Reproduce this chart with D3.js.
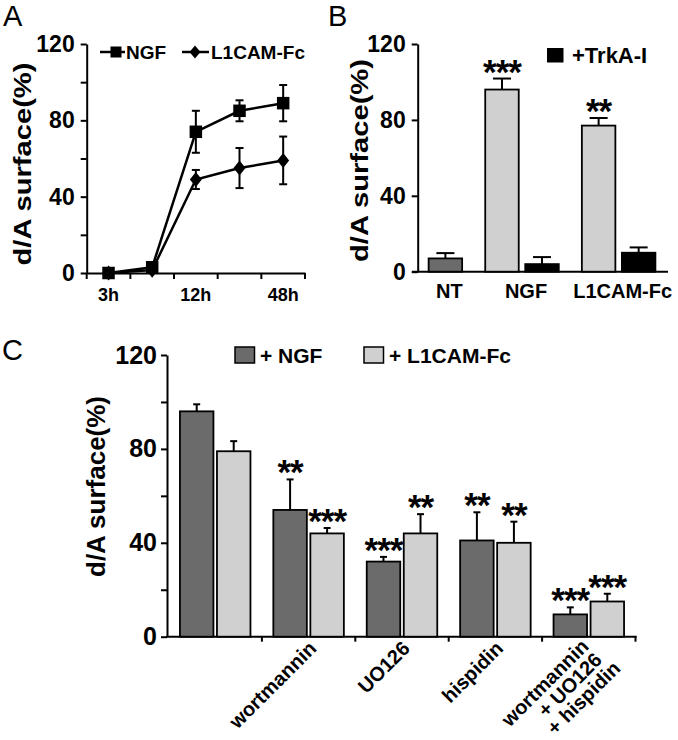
<!DOCTYPE html>
<html><head><meta charset="utf-8">
<script src="https://cdn.jsdelivr.net/npm/d3@7"></script>
<style>
body{margin:0;background:#fff}
svg{display:block}
text{font-family:"Liberation Sans",Arial,sans-serif}
</style>
</head><body>
<svg id="chart" width="678" height="740"></svg>
<script>
// ---------- Panel A data ----------
const timesA = ["3h", "6h", "12h", "24h", "48h"];
const timeLabelsA = ["3h", "12h", "48h"];
const ngfA = [0, 3, 74, 85, 89];
const ngfErrA = [0, 0, 11, 5.5, 9.5];
const l1camA = [0, 1.5, 49, 55, 59];
const l1camErrA = [0, 0, 5, 10.5, 12.5];
const seriesNamesA = ["NGF", "L1CAM-Fc"];

// ---------- Panel B data ----------
const groupsB = ["NT", "NGF", "L1CAM-Fc"];
const controlB = [7, null, null];
const controlErrB = [2.8, null, null];
const ligandB = [null, 96, 77];
const ligandErrB = [null, 5.8, 4];
const trkaB = [null, 4, 10];
const trkaErrB = [null, 3.7, 2.8];
const ligandStarsB = ["", "***", "**"];
const legendB = ["+TrkA-I"];

// ---------- Panel C data ----------
const groupsC = ["", "wortmannin", "UO126", "hispidin", "wortmannin\n+ UO126\n+ hispidin"];
const ngfC = [96, 54, 32, 41, 9.5];
const ngfErrC = [3, 13, 2, 12, 3];
const l1camC = [79, 44, 44, 40, 15];
const l1camErrC = [4.3, 2.3, 8.2, 9, 3.3];
const ngfStarsC = ["", "**", "***", "**", "***"];
const l1camStarsC = ["", "***", "**", "**", "***"];
const legendC = ["+ NGF", "+ L1CAM-Fc"];

const yTicksMajor = [0, 40, 80, 120];
const yTicksAll = [0, 20, 40, 60, 80, 100, 120];
const yLabel = "d/A surface(%)";

// ---------- styles ----------
const DARK = "#6b6b6b", LIGHT = "#d0d0d0", BLACK = "#000";
const svg = d3.select("#chart");

function panelLetter(x, y, t) {
  svg.append("text").attr("x", x).attr("y", y).attr("font-size", 29).text(t);
}
function yAxisLabel(x, cy, size, len) {
  svg.append("text")
    .attr("transform", `translate(${x},${cy}) rotate(-90)`)
    .attr("text-anchor", "middle").attr("font-weight", "bold")
    .attr("font-size", size)
    .attr("textLength", len).attr("lengthAdjust", "spacingAndGlyphs")
    .text(yLabel);
}
function yAxis(scale, x, ticks, size, pad) {
  const g = svg.append("g").attr("transform", `translate(${x},0)`)
    .call(d3.axisLeft(scale).tickValues(ticks).tickSize(6).tickSizeOuter(0)
      .tickPadding(pad).tickFormat(d => yTicksMajor.includes(d) ? d : ""));
  g.select(".domain").attr("stroke-width", 2);
  g.selectAll(".tick line").attr("stroke-width", 2);
  g.selectAll(".tick text").attr("font-size", size).attr("font-weight", "bold")
    .attr("fill", "#000");
  g.attr("font-family", null);
  return g;
}
function stars(x, yTop, s) {
  if (!s) return;
  svg.append("text").attr("x", x).attr("y", yTop + 5)
    .attr("text-anchor", "middle").attr("font-weight", "bold")
    .attr("font-size", 35).attr("letter-spacing", -1).text(s);
}
function errUp(x, y0, y1, cap) {
  svg.append("line").attr("x1", x).attr("x2", x).attr("y1", y0).attr("y2", y1)
    .attr("stroke", "#000").attr("stroke-width", 2);
  svg.append("line").attr("x1", x - cap / 2).attr("x2", x + cap / 2).attr("y1", y1).attr("y2", y1)
    .attr("stroke", "#000").attr("stroke-width", 2);
}

// =============== PANEL A ===============
const yA = d3.scaleLinear().domain([0, 120]).range([273, 44]);
const xA = d3.scaleBand().domain(timesA).range([86.7, 305]);
panelLetter(3, 26, "A");
yAxisLabel(31, 164, 24, 203);
yAxis(yA, 86.7, yTicksAll, 23, 6);
{
  const g = svg.append("g").attr("transform", `translate(0,${yA(0)})`)
    .call(d3.axisBottom(xA).tickSize(0).tickPadding(15).tickSizeOuter(0)
      .tickFormat(d => timeLabelsA.includes(d) ? d : ""));
  g.attr("font-family", null);
  g.select(".domain").attr("stroke-width", 2);
  g.selectAll(".tick text").attr("font-size", 18).attr("font-weight", "bold").attr("fill", "#000");
  const bounds = timesA.map(t => xA(t)).concat([xA.range()[1]]);
  g.selectAll(".bnd").data(bounds).enter().append("line")
    .attr("x1", d => d).attr("x2", d => d).attr("y1", 0).attr("y2", 6)
    .attr("stroke", "#000").attr("stroke-width", 2);
}
const cxA = t => xA(t) + xA.bandwidth() / 2;
const lineA = d3.line().x((d, i) => cxA(timesA[i])).y(d => yA(d));
[[ngfA, ngfErrA], [l1camA, l1camErrA]].forEach(([vals, errs]) => {
  vals.forEach((v, i) => {
    if (errs[i] > 0) {
      const x = cxA(timesA[i]);
      svg.append("line").attr("x1", x).attr("x2", x).attr("y1", yA(v + errs[i])).attr("y2", yA(v - errs[i]))
        .attr("stroke", "#000").attr("stroke-width", 2);
      [v + errs[i], v - errs[i]].forEach(e => svg.append("line")
        .attr("x1", x - 4).attr("x2", x + 4).attr("y1", yA(e)).attr("y2", yA(e))
        .attr("stroke", "#000").attr("stroke-width", 2));
    }
  });
  svg.append("path").datum(vals).attr("d", lineA).attr("fill", "none")
    .attr("stroke", "#000").attr("stroke-width", 2.5);
});
const sqPath = s => `M${-s/2},${-s/2}h${s}v${s}h${-s}Z`;
const diPath = (w, h) => `M0,${-h/2}L${w/2},0L0,${h/2}L${-w/2},0Z`;
ngfA.forEach((v, i) => svg.append("path").attr("d", sqPath(12.5))
  .attr("transform", `translate(${cxA(timesA[i])},${yA(v)})`).attr("fill", "#000"));
l1camA.forEach((v, i) => svg.append("path").attr("d", diPath(12, 15))
  .attr("transform", `translate(${cxA(timesA[i])},${yA(v)})`).attr("fill", "#000"));
// legend A
{
  const ly = 52;
  svg.append("line").attr("x1", 100).attr("x2", 125).attr("y1", ly).attr("y2", ly).attr("stroke", "#000").attr("stroke-width", 2.5);
  svg.append("path").attr("d", sqPath(11)).attr("transform", `translate(116,${ly})`);
  svg.append("text").attr("x", 126).attr("y", ly + 7).attr("font-size", 19).attr("font-weight", "bold").text(seriesNamesA[0]);
  svg.append("line").attr("x1", 182).attr("x2", 209).attr("y1", ly).attr("y2", ly).attr("stroke", "#000").attr("stroke-width", 2.5);
  svg.append("path").attr("d", diPath(11, 13)).attr("transform", `translate(195,${ly})`);
  svg.append("text").attr("x", 211).attr("y", ly + 7).attr("font-size", 19).attr("font-weight", "bold").text(seriesNamesA[1]);
}

// =============== PANEL B ===============
const yB = d3.scaleLinear().domain([0, 120]).range([271.7, 44]);
const x0B = d3.scaleBand().domain(groupsB).range([377, 667]).paddingInner(0.239).paddingOuter(0.12);
const x1B = d3.scaleBand().domain(["first", "second"]).range([0, x0B.bandwidth()]).paddingInner(0.163);
panelLetter(328, 26, "B");
yAxisLabel(367.5, 160.5, 24, 203);
yAxis(yB, 417.7, yTicksMajor, 23, 6);
svg.append("line").attr("x1", 412).attr("x2", 668).attr("y1", yB(0)).attr("y2", yB(0))
  .attr("stroke", "#000").attr("stroke-width", 2);
function barsB(vals, errs, slot, color, starsArr) {
  groupsB.forEach((g, i) => {
    const v = vals[i];
    if (v == null) return;
    const x = x0B(g) + x1B(slot), w = x1B.bandwidth();
    const xc = x + w / 2;
    errUp(xc, yB(v), yB(v + errs[i]), 18);
    svg.append("rect").attr("x", x).attr("y", yB(v)).attr("width", w).attr("height", yB(0) - yB(v))
      .attr("fill", color).attr("stroke", "#000").attr("stroke-width", 1.8);
    if (starsArr) stars(xc, yB(v + errs[i]), starsArr[i]);
  });
}
barsB(controlB, controlErrB, "second", DARK, null);
barsB(ligandB, ligandErrB, "first", LIGHT, ligandStarsB);
barsB(trkaB, trkaErrB, "second", BLACK, null);
// x labels B (centred under each group's bars)
groupsB.forEach((g, i) => {
  const slots = controlB[i] != null ? [x1B("second")] : [x1B("first"), x1B("second")];
  const left = x0B(g) + d3.min(slots), right = x0B(g) + d3.max(slots) + x1B.bandwidth();
  svg.append("text").attr("x", (left + right) / 2 + 4).attr("y", 298).attr("text-anchor", "middle")
    .attr("font-size", 20).attr("font-weight", "bold").text(g);
});
svg.append("rect").attr("x", 547).attr("y", 48).attr("width", 16.5).attr("height", 14.5).attr("fill", "#000");
svg.append("text").attr("x", 572).attr("y", 62.5).attr("font-size", 22).attr("font-weight", "bold").text(legendB[0]);

// =============== PANEL C ===============
const yC = d3.scaleLinear().domain([0, 120]).range([636.7, 355]);
const x0C = d3.scaleBand().domain(groupsC).range([168.5, 635.5]).paddingInner(0.245).paddingOuter(0.1225);
const x1C = d3.scaleBand().domain(["ngf", "l1cam"]).range([0, x0C.bandwidth()]).paddingInner(0.095);
panelLetter(2, 360, "C");
yAxisLabel(105, 486.5, 25, 181);
yAxis(yC, 167, yTicksAll, 25, 4);
{
  const y0 = yC(0);
  svg.append("line").attr("x1", 166).attr("x2", 636.7).attr("y1", y0).attr("y2", y0)
    .attr("stroke", "#000").attr("stroke-width", 2);
  const half = x0C.step() * x0C.paddingInner() / 2;
  const bounds = groupsC.slice(1).map(g => x0C(g) - half).concat([x0C.range()[1]]);
  bounds.forEach(b => svg.append("line").attr("x1", b).attr("x2", b).attr("y1", y0).attr("y2", y0 + 5)
    .attr("stroke", "#000").attr("stroke-width", 2));
}
[[ngfC, ngfErrC, "ngf", DARK, ngfStarsC], [l1camC, l1camErrC, "l1cam", LIGHT, l1camStarsC]].forEach(([vals, errs, slot, color, st]) => {
  groupsC.forEach((g, i) => {
    const v = vals[i];
    const x = x0C(g) + x1C(slot), w = x1C.bandwidth(), xc = x + w / 2;
    errUp(xc, yC(v), yC(v + errs[i]), 7);
    svg.append("rect").attr("x", x).attr("y", yC(v)).attr("width", w).attr("height", yC(0) - yC(v))
      .attr("fill", color).attr("stroke", "#000").attr("stroke-width", 1.8);
    stars(xc, yC(v + errs[i]), st[i]);
  });
});
// rotated x labels C
groupsC.forEach(g => {
  if (!g) return;
  const lines = g.split("\n");
  const cx = x0C(g) + x0C.bandwidth() / 2;
  const multi = lines.length > 1;
  const ax = multi ? cx + 1 : cx + 9, ay = yC(0) + (multi ? 11 : 13);
  const t = svg.append("text").attr("transform", `translate(${ax},${ay}) rotate(-45)`)
    .attr("text-anchor", "end").attr("font-size", 20).attr("font-weight", "bold");
  lines.forEach((l, k) => t.append("tspan").attr("x", k === 2 ? 7 : 0).attr("dy", k === 0 ? 0 : 19).text(l));
});
// legend C
[[DARK, legendC[0], 235], [LIGHT, legendC[1], 364]].forEach(([c, label, x]) => {
  svg.append("rect").attr("x", x).attr("y", 347).attr("width", 19.5).attr("height", 16)
    .attr("fill", c).attr("stroke", "#000").attr("stroke-width", 1.5);
  svg.append("text").attr("x", x + 25).attr("y", 362.5).attr("font-size", 21).attr("font-weight", "bold").text(label);
});
</script>
</body></html>
